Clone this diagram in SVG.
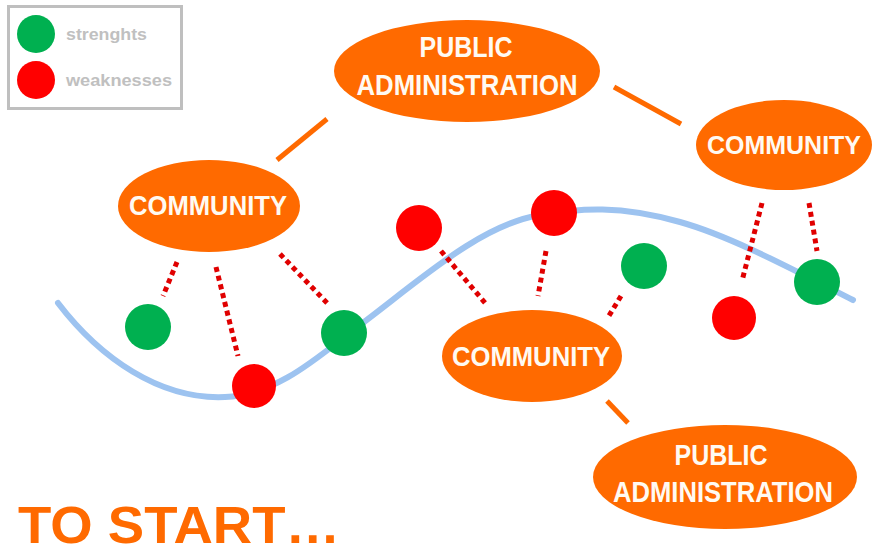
<svg xmlns="http://www.w3.org/2000/svg" width="876" height="555" viewBox="0 0 876 555">
<style>
.node{fill:#ff6a00}
.lbl{font-family:"Liberation Sans",Arial,sans-serif;font-weight:bold;fill:#fffaf2;text-anchor:middle}
.g{fill:#00b050}
.r{fill:#ff0000}
.dot{stroke:#e00000;stroke-width:5;stroke-dasharray:5 4;fill:none}
.sol{stroke:#ff6a00;stroke-width:5;fill:none}
.leg{font-family:"Liberation Sans",Arial,sans-serif;font-weight:bold;fill:#c0c0c0;font-size:17px}
</style>
<rect width="876" height="555" fill="#fff"/>
<g id="legend">
<rect x="8.5" y="6.5" width="173" height="102" fill="#fff" stroke="#bfbfbf" stroke-width="3"/>
<circle cx="36" cy="34" r="19" class="g"/>
<circle cx="36" cy="80" r="19" class="r"/>
<text x="66" y="40" class="leg" textLength="81" lengthAdjust="spacingAndGlyphs">strenghts</text>
<text x="66" y="86" class="leg" textLength="106" lengthAdjust="spacingAndGlyphs">weaknesses</text>
</g>
<path id="curve" d="M58,303 C100,358 160,400 225,397 C280,394 320,355 360,325 C420,280 480,225 540,215 C580,208 620,205 680,222 C730,236 790,268 853,300" fill="none" stroke="#9dc3f0" stroke-width="6" stroke-linecap="round"/>
<g id="connectors">
<line x1="277" y1="160" x2="327" y2="119" class="sol"/>
<line x1="614" y1="87" x2="681" y2="124" class="sol"/>
<line x1="607" y1="401" x2="628" y2="423" class="sol"/>
<line x1="177" y1="262" x2="163" y2="296" class="dot"/>
<line x1="216" y1="267" x2="238" y2="356" class="dot"/>
<line x1="280" y1="254" x2="328" y2="304" class="dot"/>
<line x1="441" y1="251" x2="486" y2="304" class="dot"/>
<line x1="546" y1="251" x2="538" y2="296" class="dot"/>
<line x1="621" y1="296" x2="607" y2="319" class="dot"/>
<line x1="762" y1="203" x2="742" y2="281" class="dot"/>
<line x1="809" y1="203" x2="817" y2="251" class="dot"/>
</g>
<g id="points">
<circle cx="148" cy="327" r="23" class="g"/>
<circle cx="254" cy="386" r="22" class="r"/>
<circle cx="344" cy="333" r="23" class="g"/>
<circle cx="419" cy="228" r="23" class="r"/>
<circle cx="554" cy="213" r="23" class="r"/>
<circle cx="644" cy="266" r="23" class="g"/>
<circle cx="734" cy="318" r="22" class="r"/>
<circle cx="817" cy="282" r="23" class="g"/>
</g>
<g id="pa-top">
<ellipse cx="467" cy="71" rx="133" ry="51" class="node"/>
<text x="466" y="57" class="lbl" font-size="30" textLength="93" lengthAdjust="spacingAndGlyphs">PUBLIC</text>
<text x="467" y="95" class="lbl" font-size="30" textLength="221" lengthAdjust="spacingAndGlyphs">ADMINISTRATION</text>
</g>
<g id="community-left">
<ellipse cx="209" cy="206" rx="91" ry="46" class="node"/>
<text x="208" y="215" class="lbl" font-size="28" textLength="158" lengthAdjust="spacingAndGlyphs">COMMUNITY</text>
</g>
<g id="community-right">
<ellipse cx="784" cy="145" rx="88" ry="45" class="node"/>
<text x="784" y="154" class="lbl" font-size="26" textLength="154" lengthAdjust="spacingAndGlyphs">COMMUNITY</text>
</g>
<g id="community-mid">
<ellipse cx="532" cy="356" rx="90" ry="46" class="node"/>
<text x="531" y="366" class="lbl" font-size="28" textLength="158" lengthAdjust="spacingAndGlyphs">COMMUNITY</text>
</g>
<g id="pa-bottom">
<ellipse cx="725" cy="477" rx="132" ry="52" class="node"/>
<text x="721" y="465" class="lbl" font-size="30" textLength="93" lengthAdjust="spacingAndGlyphs">PUBLIC</text>
<text x="723" y="502" class="lbl" font-size="30" textLength="220" lengthAdjust="spacingAndGlyphs">ADMINISTRATION</text>
</g>
<text id="title" x="18" y="543" font-family="Liberation Sans,Arial,sans-serif" font-weight="bold" font-size="52" fill="#ff6a00" textLength="322" lengthAdjust="spacingAndGlyphs">TO START…</text>
</svg>
